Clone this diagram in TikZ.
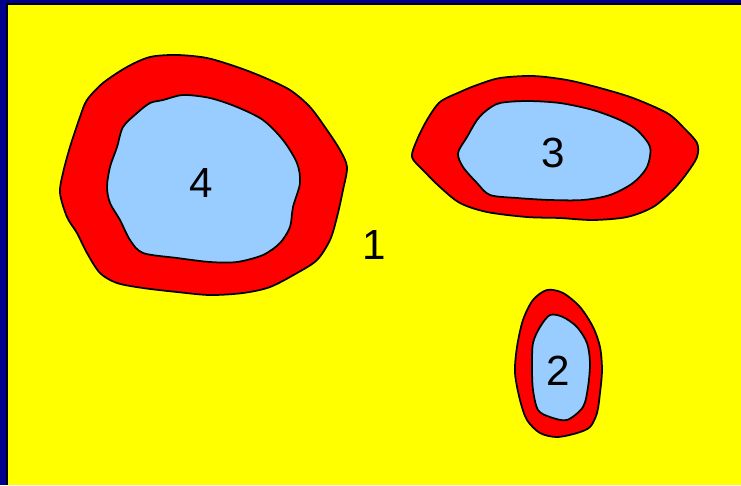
\documentclass[tikz,border=0pt]{standalone}
\usepackage{fontspec}
\setmainfont{Liberation Sans}
\usepackage{tikz}

\definecolor{slidenavy}{RGB}{0,0,140}
\definecolor{bgyellow}{RGB}{255,255,0}
\definecolor{rimred}{RGB}{255,0,0}
\definecolor{corebl}{RGB}{153,204,255}

\begin{document}
\begin{tikzpicture}[
  x=0.02cm, y=-0.02cm,
  rim/.style={draw=black, line width=1pt, fill=rimred},
  core/.style={draw=black, line width=1pt, fill=corebl},
  num/.style={font=\fontsize{24}{28}\selectfont, inner sep=0pt}]
\useasboundingbox (0,0) rectangle (741,485);
\fill[slidenavy] (0,0) rectangle (741,485);
\fill[bgyellow] (7,4) rectangle (741,485);
\draw[line width=0.6pt] (7,485) -- (7,4) -- (741,4);
% region 4
\draw[rim] plot[smooth cycle] coordinates {(127,67) (150,57) (177,55) (207,58)
  (237,67) (263,77) (290,90) (310,107) (327,130) (340,150) (347,167) (343,190)
  (337,217) (330,240) (317,260) (297,273) (270,287) (243,293) (210,295)
  (177,292) (143,288) (117,283) (100,273) (87,253) (77,233) (67,217) (60,193)
  (63,173) (70,147) (80,117) (87,100) (103,83)};
\draw[core] plot[smooth cycle] coordinates {(163,100) (183,95) (210,98)
  (237,107) (263,120) (283,140) (297,163) (300,183) (293,207) (290,227)
  (280,243) (263,255) (237,262) (210,262) (177,258) (143,253) (130,240)
  (120,220) (110,203) (107,187) (110,167) (117,147) (123,127) (137,113)
  (150,103)};
% region 3
\draw[rim] plot[smooth cycle] coordinates {(500,78) (533,76) (567,80) (600,88)
  (633,98) (667,113) (683,127) (697,143) (697,157) (687,173) (673,190)
  (653,207) (627,217) (593,220) (560,218) (527,217) (487,212) (460,203)
  (440,187) (423,170) (412,157) (417,140) (427,120) (440,102) (460,92)
  (477,85)};
\draw[core] plot[smooth cycle] coordinates {(500,103) (527,101) (560,103)
  (593,110) (620,120) (637,130) (650,147) (647,167) (633,183) (610,195)
  (583,200) (550,200) (517,198) (490,195) (477,183) (463,167) (458,153)
  (467,137) (477,120) (487,110)};
% region 2
\draw[rim] plot[smooth cycle] coordinates {(547,290) (563,293) (580,307)
  (593,327) (600,347) (602,370) (600,393) (597,413) (590,427) (577,433)
  (557,437) (540,433) (527,420) (520,400) (515,373) (517,347) (523,320)
  (533,300)};
\draw[core] plot[smooth cycle] coordinates {(550,315) (563,317) (577,327)
  (587,343) (590,363) (588,387) (583,407) (567,420) (550,417) (538,410)
  (533,390) (532,367) (533,343) (540,327)};
\node[num] (four) at (201,183) {4};
\node[num] (three) at (553,153) {3};
\node[num] (two) at (558,371) {2};
\node[num] (one) at (374,245) {1};
\end{tikzpicture}
\end{document}
